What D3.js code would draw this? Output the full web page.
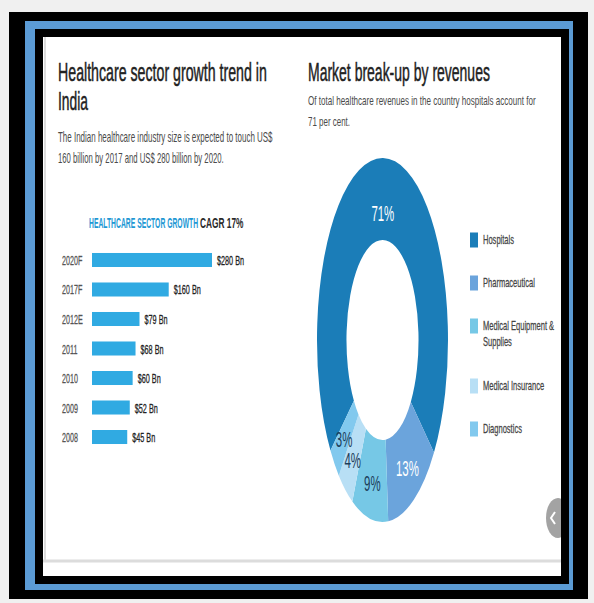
<!DOCTYPE html>
<html>
<head>
<meta charset="UTF-8">
<script src="https://cdn.jsdelivr.net/npm/d3@7"></script>
<style>
  body { margin: 0; background: #f0f0f0; }
  svg { display: block; }
  text { font-family: "Liberation Sans", Arial, sans-serif; }
</style>
</head>
<body>
<svg id="chart" width="594" height="603"></svg>
<script>
// bar chart data
var years = ["2020F", "2017F", "2012E", "2011", "2010", "2009", "2008"];
var sizes = [280, 160, 79, 68, 60, 52, 45];

// donut data
var segments = ["Hospitals", "Pharmaceutical", "Medical Equipment & Supplies", "Medical Insurance", "Diagnostics"];
var shares = [71, 13, 9, 4, 3];
var segColors = ["#1b7db8", "#6ba4dc", "#76c8e6", "#b8dff5", "#82c9ee"];

var svg = d3.select("#chart");

// squeeze text horizontally (the original picture is compressed)
function place(sel, x, y, k) {
    sel.attr("transform", "translate(" + x + "," + y + ") scale(" + k + ",1)");
    return sel;
}

// text line squeezed to a fixed width
function line(x, y, size, color, width, str) {
    var t = svg.append("text").attr("font-size", size).attr("fill", color).text(str);
    var k = width / t.node().getComputedTextLength();
    return place(t, x, y, k);
}

// frame
svg.append("rect").attr("x", 9).attr("y", 12).attr("width", 579).attr("height", 587).attr("fill", "#000");
svg.append("rect").attr("x", 25).attr("y", 21).attr("width", 548).attr("height", 569).attr("fill", "#5b9bd5");
svg.append("rect").attr("x", 35).attr("y", 29).attr("width", 534).attr("height", 555).attr("fill", "#000");
svg.append("rect").attr("x", 43).attr("y", 37).attr("width", 518).attr("height", 539).attr("fill", "#fff");
svg.append("line").attr("x1", 45).attr("x2", 45).attr("y1", 37).attr("y2", 561)
    .attr("stroke", "#dcdcdc").attr("stroke-width", 2);
svg.append("line").attr("x1", 43).attr("x2", 561).attr("y1", 561).attr("y2", 561)
    .attr("stroke", "#dcdcdc").attr("stroke-width", 3);

// left titles
line(58, 81, 25, "#222", 209, "Healthcare sector growth trend in").attr("stroke", "#222").attr("stroke-width", 0.5);
line(58, 110, 25, "#222", 30, "India").attr("stroke", "#222").attr("stroke-width", 0.5);
line(58, 142, 14, "#4a4a4a", 215, "The Indian healthcare industry size is expected to touch US$");
line(58, 163, 14, "#4a4a4a", 166, "160 billion by 2017 and US$ 280 billion by 2020.");

// right titles
line(308, 81, 25, "#222", 182, "Market break-up by revenues").attr("stroke", "#222").attr("stroke-width", 0.5);
line(308, 105, 13, "#4a4a4a", 228, "Of total healthcare revenues in the country hospitals account for");
line(308, 126, 13, "#4a4a4a", 42, "71 per cent.");

// bar chart header
line(89, 228, 14, "#1e98d4", 108, "HEALTHCARE SECTOR GROWTH").attr("font-weight", "bold");
line(200, 228, 14, "#2a2a2a", 43, "CAGR 17%").attr("font-weight", "bold");

// bars
var barX0 = 92;
var y = d3.scaleBand().domain(years).range([237.5, 459.5]).padding(0.525);
var w = d3.scaleLinear().domain([0, 280]).range([19, 120]);

var rows = svg.append("g").selectAll("g").data(years).enter().append("g");

rows.append("rect")
    .attr("x", barX0)
    .attr("y", function (d) { return y(d); })
    .attr("width", function (d, i) { return w(sizes[i]); })
    .attr("height", y.bandwidth())
    .attr("fill", "#30aae2");

rows.append("text")
    .attr("font-size", 13).attr("fill", "#555")
    .attr("stroke", "#555").attr("stroke-width", 0.3)
    .each(function (d) {
        place(d3.select(this), 62, y(d) + y.bandwidth() / 2 + 5, 0.55);
    })
    .text(function (d) { return d; });

rows.append("text")
    .attr("font-size", 13).attr("fill", "#222")
    .attr("stroke", "#222").attr("stroke-width", 0.3)
    .each(function (d, i) {
        place(d3.select(this), barX0 + w(sizes[i]) + 5, y(d) + y.bandwidth() / 2 + 5, 0.56);
    })
    .text(function (d, i) { return "$" + sizes[i] + " Bn"; });

// donut (drawn round then stretched like the original)
var cx = 382.5, cy = 340, R = 100;
var sx = 65.5 / R, sy = 182 / R;
var start = 232.6 * Math.PI / 180;
var pie = d3.pie().sort(null).startAngle(start).endAngle(start + 2 * Math.PI);
var arcs = pie(shares);
var arc = d3.arc().innerRadius(R * 0.55).outerRadius(R);

svg.append("g")
    .attr("transform", "translate(" + cx + "," + cy + ") scale(" + sx + "," + sy + ")")
    .selectAll("path").data(arcs).enter().append("path")
    .attr("d", arc)
    .attr("fill", function (d, i) { return segColors[i]; });

svg.append("g").selectAll("text").data(arcs).enter().append("text")
    .attr("text-anchor", "middle")
    .attr("font-size", 22)
    .attr("fill", function (d) { return d.data > 10 ? "#fff" : "#1c3c5a"; })
    .each(function (d) {
        var r = d.data > 50 ? R * 0.7 : R * 0.8;
        var c = d3.arc().innerRadius(r).outerRadius(r).centroid(d);
        place(d3.select(this), cx + c[0] * sx, cy + c[1] * sy + 8, 0.52);
    })
    .text(function (d) { return d.data + "%"; });

// legend
var legend = svg.append("g").selectAll("g").data(segments).enter().append("g")
    .attr("transform", function (d, i) {
        return "translate(470," + (240 + i * 43 + (i > 2 ? 17 : 0)) + ")";
    });

legend.append("rect")
    .attr("x", 0).attr("y", -7.5).attr("width", 8).attr("height", 15)
    .attr("fill", function (d, i) { return segColors[i]; });

legend.each(function (d) {
    var parts = d.indexOf(" & ") > 0 ? [d.split(" & ")[0] + " &", d.split(" & ")[1]] : [d];
    var g = d3.select(this);
    parts.forEach(function (str, j) {
        place(g.append("text").attr("font-size", 13).attr("fill", "#444")
            .attr("stroke", "#444").attr("stroke-width", 0.25).text(str),
            13, 4 + j * 16, 0.58);
    });
});

// slider arrow on the right edge
var clip = svg.append("clipPath").attr("id", "panel");
clip.append("rect").attr("x", 43).attr("y", 37).attr("width", 518).attr("height", 539);
var arrow = svg.append("g").attr("clip-path", "url(#panel)");
arrow.append("ellipse").attr("cx", 558).attr("cy", 518).attr("rx", 12).attr("ry", 20).attr("fill", "#a3a3a3");
arrow.append("path").attr("d", "M555,512 L551,518 L555,524")
    .attr("fill", "none").attr("stroke", "#fff").attr("stroke-width", 2);
</script>
</body>
</html>
